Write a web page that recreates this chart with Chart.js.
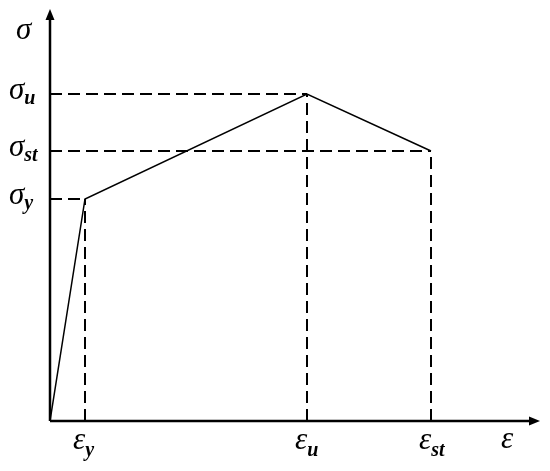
<!DOCTYPE html>
<html>
<head>
<meta charset="utf-8">
<script src="https://cdn.jsdelivr.net/npm/chart.js@4"></script>
<style>
html, body { margin: 0; padding: 0; background: #fff; }
#wrap { width: 550px; height: 471px; }
</style>
</head>
<body>
<div id="wrap"><canvas id="chart"></canvas></div>
<script>
// key points of the stress-strain curve (origin, yield, ultimate, strain hardening end)
const strain = [0, 0.35, 2.57, 3.81];
const stress = [0, 2.22, 3.27, 2.70];
const pointNames = ['', 'y', 'u', 'st'];
const axisMax = { x: 4.9, y: 4.12 };

const curve = strain.map((x, i) => ({ x: x, y: stress[i] }));

const guides = [];
for (let i = 1; i < strain.length; i++) {
    guides.push([{ x: 0, y: stress[i] }, { x: strain[i], y: stress[i] }]);
    guides.push([{ x: strain[i], y: 0 }, { x: strain[i], y: stress[i] }]);
}

const serif = '"Liberation Serif", "DejaVu Serif", serif';

const axesAndLabels = {
    id: 'axesAndLabels',
    afterDraw(chart) {
        const ctx = chart.ctx;
        const xs = chart.scales.x, ys = chart.scales.y;
        const x0 = xs.getPixelForValue(0), y0 = ys.getPixelForValue(0);
        const xEnd = xs.getPixelForValue(axisMax.x), yEnd = ys.getPixelForValue(axisMax.y);
        ctx.save();
        ctx.strokeStyle = '#000';
        ctx.fillStyle = '#000';
        ctx.lineWidth = 2.5;
        ctx.beginPath();
        ctx.moveTo(x0, y0);
        ctx.lineTo(x0, yEnd + 6);
        ctx.moveTo(x0, y0);
        ctx.lineTo(xEnd - 6, y0);
        ctx.stroke();
        // arrow heads
        ctx.beginPath();
        ctx.moveTo(x0, yEnd);
        ctx.lineTo(x0 - 4.5, yEnd + 11);
        ctx.lineTo(x0 + 4.5, yEnd + 11);
        ctx.closePath();
        ctx.fill();
        ctx.beginPath();
        ctx.moveTo(xEnd, y0);
        ctx.lineTo(xEnd - 11, y0 - 4.5);
        ctx.lineTo(xEnd - 11, y0 + 4.5);
        ctx.closePath();
        ctx.fill();

        ctx.textBaseline = 'alphabetic';
        ctx.textAlign = 'left';
        const main = 'italic 31px ' + serif;
        const sub = 'italic bold 20px ' + serif;

        // axis names
        ctx.font = main;
        ctx.fillText('σ', 16, 39);
        ctx.fillText('ε', 501, 448);

        for (let i = 1; i < strain.length; i++) {
            const py = ys.getPixelForValue(stress[i]);
            ctx.font = main;
            ctx.fillText('σ', 9, py + 5);
            const w = ctx.measureText('σ').width;
            ctx.font = sub;
            ctx.fillText(pointNames[i], 9 + w, py + 10);

            const px = xs.getPixelForValue(strain[i]);
            ctx.font = main;
            ctx.fillText('ε', px - 12, 449);
            const we = ctx.measureText('ε').width;
            ctx.font = sub;
            ctx.fillText(pointNames[i], px - 12 + we, 456);
        }
        ctx.restore();
    }
};

const datasets = [{
    data: curve,
    borderColor: '#000',
    borderWidth: 1.5,
    pointRadius: 0,
    showLine: true,
    tension: 0
}];
guides.forEach(g => datasets.push({
    data: g,
    borderColor: '#000',
    borderWidth: 2,
    borderDash: [12, 6],
    pointRadius: 0,
    showLine: true
}));

new Chart(document.getElementById('chart'), {
    type: 'scatter',
    data: { datasets: datasets },
    options: {
        responsive: true,
        maintainAspectRatio: false,
        animation: false,
        layout: { padding: { left: 50, right: 10, top: 9, bottom: 50 } },
        plugins: { legend: { display: false }, tooltip: { enabled: false } },
        scales: {
            x: { type: 'linear', min: 0, max: axisMax.x, display: false },
            y: { type: 'linear', min: 0, max: axisMax.y, display: false }
        }
    },
    plugins: [axesAndLabels]
});
</script>
</body>
</html>
